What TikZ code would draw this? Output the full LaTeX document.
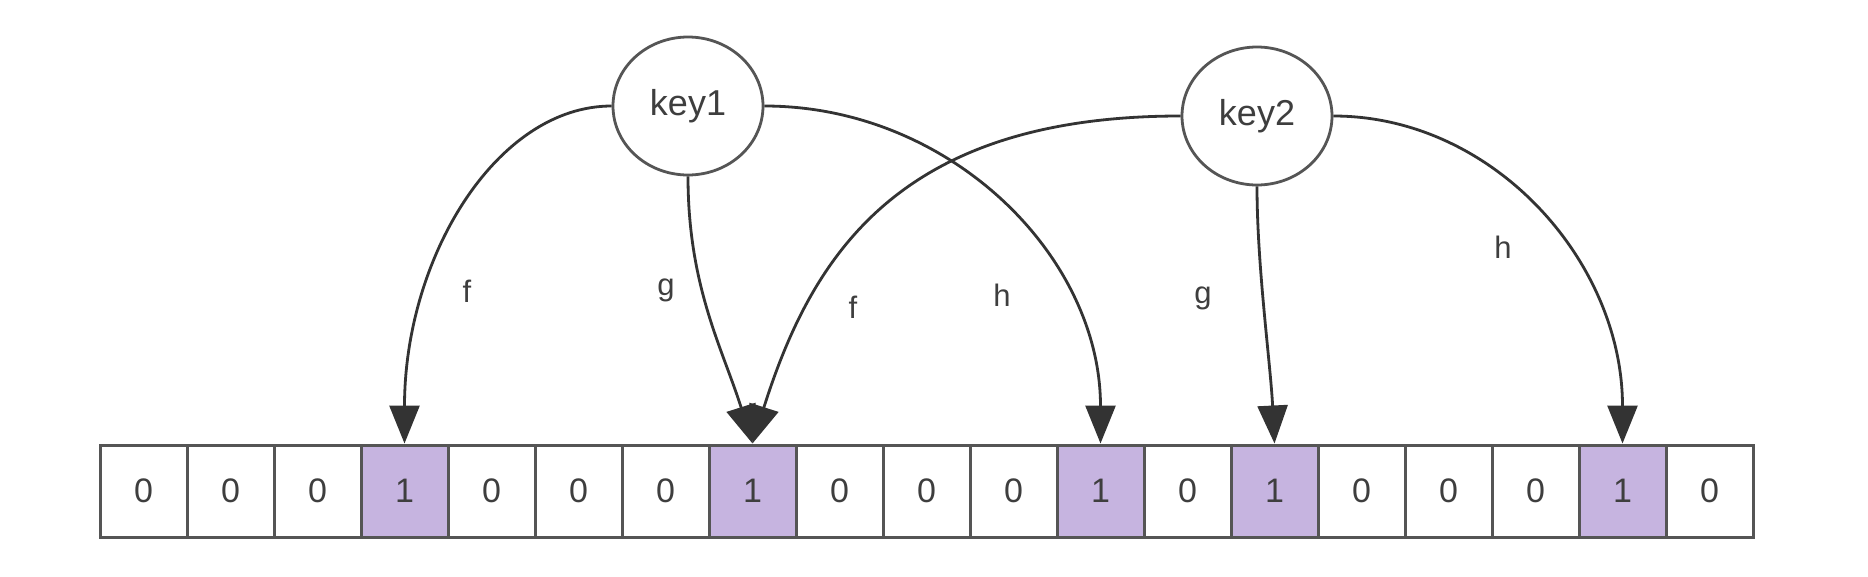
\documentclass[tikz,border=0pt]{standalone}
\usepackage{fontspec}
\setmainfont{Liberation Sans}
\usetikzlibrary{arrows.meta,shapes.geometric}
\definecolor{lc}{HTML}{333333}
\definecolor{bc}{HTML}{555555}
\definecolor{pu}{RGB}{198,180,224}
\definecolor{tc}{HTML}{3E3E3E}
\begin{document}
\begin{tikzpicture}[x=1pt,y=-1pt,
  keynode/.style={ellipse,draw=bc,line width=2.8pt,minimum width=150pt,minimum height=138pt,inner sep=0pt,text=tc,font=\fontsize{36}{40}\selectfont},
  cellbox/.style={rectangle,draw=bc,line width=3pt,minimum width=87pt,minimum height=92pt,inner sep=0pt,text=tc,font=\fontsize{34}{40}\selectfont},
  setbox/.style={cellbox,fill=pu},
  hasharrow/.style={draw=lc,line width=2.8pt,-{Triangle[width=30pt,length=38pt]}},
  hashlabel/.style={text=tc,font=\fontsize{31}{36}\selectfont,inner sep=0pt}]
\useasboundingbox (0,0) rectangle (1868,576);
\fill[white] (0,0) rectangle (1868,576);

\foreach \v/\s [count=\i from 0] in {0/cellbox,0/cellbox,0/cellbox,1/setbox,0/cellbox,0/cellbox,0/cellbox,1/setbox,0/cellbox,0/cellbox,0/cellbox,1/setbox,0/cellbox,1/setbox,0/cellbox,0/cellbox,0/cellbox,1/setbox,0/cellbox}
  \node[\s] (c\i) at ({100+87*(\i+0.5)},491) {\v};

\node[keynode] (k1) at (688,106) {key1};
\node[keynode] (k2) at (1257,116) {key2};

\draw[hasharrow] (k1.west) .. controls +(-115,0) and +(0,-186) .. (c3.north);
\draw[hasharrow] (k1.south) .. controls +(0,110) and +(-30,-95) .. (c7.north);
\draw[hasharrow] (k1.east) .. controls +(186,0) and +(0,-187) .. (c11.north);
\draw[hasharrow] (k2.west) .. controls +(-280,0) and +(60,-190) .. (c7.north);
\draw[hasharrow] (k2.south) .. controls +(0,80) and +(-4,-80) .. (c13.north);
\draw[hasharrow] (k2.east) .. controls +(160,0) and +(0,-182) .. (c17.north);

\node[hashlabel] (l1) at (467,291) {f};
\node[hashlabel] (l2) at (666,290) {g};
\node[hashlabel] (l3) at (1002,295) {h};
\node[hashlabel] (l4) at (853,307) {f};
\node[hashlabel] (l5) at (1203,298) {g};
\node[hashlabel] (l6) at (1503,247) {h};
\end{tikzpicture}
\end{document}
